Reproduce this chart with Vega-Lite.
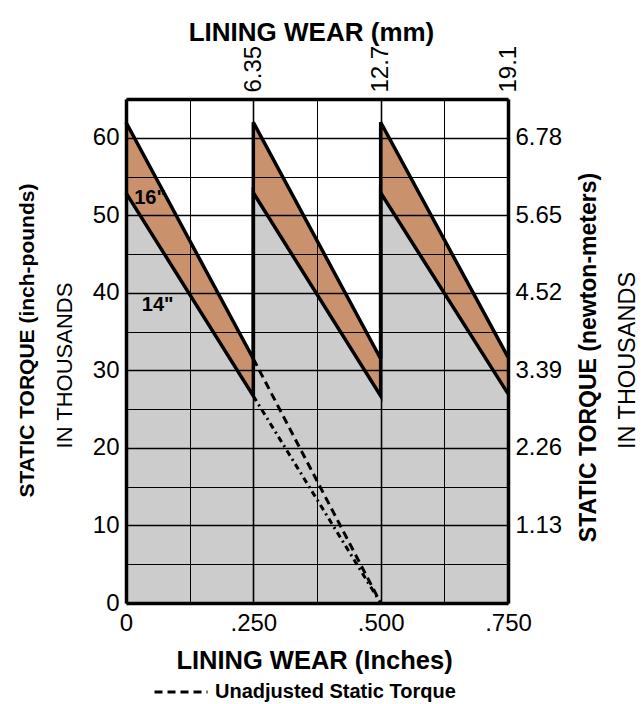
{
  "$schema": "https://vega.github.io/schema/vega-lite/v6.json",
  "width": 382,
  "height": 504,
  "autosize": "none",
  "padding": {"left": 126, "top": 99, "right": 136, "bottom": 101},
  "background": "white",
  "config": {
    "view": {"stroke": null},
    "font": "Liberation Sans, Arial, sans-serif",
    "axis": {
      "labelFont": "Liberation Sans, Arial, sans-serif",
      "titleFont": "Liberation Sans, Arial, sans-serif",
      "labelColor": "#000",
      "titleColor": "#000",
      "labelFontSize": 24,
      "titleFontWeight": "bold",
      "ticks": false,
      "labelFlush": false,
      "labelOverlap": false,
      "labelBound": false
    }
  },
  "datasets": {
    "saw": [
      {"x": 0, "t16": 62, "t14": 52.9, "o": 1},
      {"x": 0.25, "t16": 31.5, "t14": 26.7, "o": 2},
      {"x": 0.25, "t16": 62, "t14": 52.9, "o": 3},
      {"x": 0.5, "t16": 31.5, "t14": 26.7, "o": 4},
      {"x": 0.5, "t16": 62, "t14": 52.9, "o": 5},
      {"x": 0.75, "t16": 31.7, "t14": 27.0, "o": 6}
    ],
    "teeth": [
      {"tooth": 1, "x": 0, "t16": 62, "t14": 52.9},
      {"tooth": 1, "x": 0.25, "t16": 31.5, "t14": 26.7},
      {"tooth": 2, "x": 0.25, "t16": 62, "t14": 52.9},
      {"tooth": 2, "x": 0.5, "t16": 31.5, "t14": 26.7},
      {"tooth": 3, "x": 0.5, "t16": 62, "t14": 52.9},
      {"tooth": 3, "x": 0.75, "t16": 31.7, "t14": 27.0}
    ],
    "unadj": [
      {"x": 0.25, "y": 31.5, "kind": "Unadjusted Static Torque"},
      {"x": 0.5, "y": 0, "kind": "Unadjusted Static Torque"},
      {"x": 0.25, "y": 26.7, "kind": "Unadjusted (14 in)"},
      {"x": 0.5, "y": 0, "kind": "Unadjusted (14 in)"}
    ],
    "labels": [
      {"x": 0.016, "y": 52.2, "label": "16\""},
      {"x": 0.031, "y": 38.4, "label": "14\""}
    ]
  },
  "layer": [
    {
      "data": {"name": "teeth"},
      "mark": {"type": "area", "fill": "#cccccc", "fillOpacity": 1, "orient": "vertical"},
      "encoding": {
        "x": {
          "field": "x", "type": "quantitative",
          "scale": {"domain": [0, 0.75], "nice": false, "zero": false},
          "axis": {
            "orient": "bottom",
            "values": [0, 0.125, 0.25, 0.375, 0.5, 0.625, 0.75],
            "labelExpr": "datum.value === 0 ? '0' : (round(datum.value * 1000) % 250 === 0 ? '.' + format(round(datum.value * 1000), 'd') : '')",
            "grid": true,
            "gridColor": "#000",
            "gridWidth": {"condition": {"test": "round(datum.value * 1000) % 250 === 0", "value": 1.6}, "value": 1},
            "domain": true,
            "domainColor": "#000",
            "domainWidth": 3.5,
            "labelPadding": 8,
            "title": "LINING WEAR (Inches)",
            "titleFontSize": 25.5,
            "titleX": 188,
            "titleY": 57,
            "titleBaseline": "middle",
            "titleAlign": "center",
            "zindex": 1
          }
        },
        "y": {
          "field": "t14", "type": "quantitative", "stack": null,
          "scale": {"domain": [0, 65], "nice": false, "zero": false},
          "axis": {
            "orient": "left",
            "values": [0, 5, 10, 15, 20, 25, 30, 35, 40, 45, 50, 55, 60],
            "labelExpr": "datum.value % 10 === 0 ? datum.label : ''",
            "grid": true,
            "gridColor": "#000",
            "gridWidth": {"condition": {"test": "datum.value % 10 === 0", "value": 1.6}, "value": 1},
            "domain": true,
            "domainColor": "#000",
            "domainWidth": 3.5,
            "labelPadding": 7,
            "labelBaseline": "middle",
            "title": "STATIC TORQUE (inch-pounds)",
            "titleFontSize": 21,
            "titleAngle": 270,
            "titleX": -99,
            "titleY": 241,
            "titleBaseline": "middle",
            "titleAlign": "center",
            "zindex": 1
          }
        },
        "y2": {"datum": 0},
        "detail": {"field": "tooth", "type": "nominal"}
      }
    },
    {
      "data": {"name": "teeth"},
      "mark": {"type": "area", "fill": "#c9926d", "fillOpacity": 1, "orient": "vertical"},
      "encoding": {
        "x": {"field": "x", "type": "quantitative", "scale": {"domain": [0, 0.75], "nice": false, "zero": false}, "axis": null},
        "y": {"field": "t16", "type": "quantitative", "stack": null, "scale": {"domain": [0, 65], "nice": false, "zero": false}, "axis": null},
        "y2": {"field": "t14"},
        "detail": {"field": "tooth", "type": "nominal"}
      }
    },
    {
      "data": {"name": "saw"},
      "mark": {"type": "line", "color": "#000", "strokeWidth": 3.5, "strokeJoin": "miter", "strokeCap": "butt"},
      "encoding": {
        "x": {"field": "x", "type": "quantitative", "scale": {"domain": [0, 0.75], "nice": false, "zero": false}, "axis": null},
        "y": {"field": "t14", "type": "quantitative", "scale": {"domain": [0, 65], "nice": false, "zero": false}, "axis": null},
        "order": {"field": "o", "type": "quantitative"}
      }
    },
    {
      "data": {"name": "saw"},
      "mark": {"type": "line", "color": "#000", "strokeWidth": 3.5, "strokeJoin": "miter", "strokeCap": "butt"},
      "encoding": {
        "x": {"field": "x", "type": "quantitative", "scale": {"domain": [0, 0.75], "nice": false, "zero": false}, "axis": null},
        "y": {"field": "t16", "type": "quantitative", "scale": {"domain": [0, 65], "nice": false, "zero": false}, "axis": null},
        "order": {"field": "o", "type": "quantitative"}
      }
    },
    {
      "data": {"name": "unadj"},
      "mark": {"type": "line", "color": "#000", "strokeWidth": 3},
      "encoding": {
        "x": {"field": "x", "type": "quantitative", "scale": {"domain": [0, 0.75], "nice": false, "zero": false}, "axis": null},
        "y": {"field": "y", "type": "quantitative", "scale": {"domain": [0, 65], "nice": false, "zero": false}, "axis": null},
        "strokeDash": {
          "field": "kind", "type": "nominal",
          "scale": {"domain": ["Unadjusted Static Torque", "Unadjusted (14 in)"], "range": [[8, 5], [6, 4, 2, 4]]},
          "legend": {
            "values": ["Unadjusted Static Torque"],
            "title": null,
            "orient": "none",
            "legendX": 27,
            "legendY": 565,
            "padding": 0,
            "symbolType": "stroke",
            "symbolSize": 2809,
            "symbolStrokeWidth": 3,
            "symbolStrokeColor": "#000",
            "labelFont": "Liberation Sans, Arial, sans-serif",
            "labelFontSize": 20,
            "labelFontWeight": "bold",
            "labelColor": "#000",
            "labelOffset": 6,
            "labelLimit": 400
          }
        }
      }
    },
    {
      "data": {"name": "labels"},
      "mark": {"type": "text", "align": "left", "baseline": "middle", "fontSize": 20, "fontWeight": "bold", "color": "#000"},
      "encoding": {
        "x": {"field": "x", "type": "quantitative", "scale": {"domain": [0, 0.75], "nice": false, "zero": false}, "axis": null},
        "y": {"field": "y", "type": "quantitative", "scale": {"domain": [0, 65], "nice": false, "zero": false}, "axis": null},
        "text": {"field": "label"}
      }
    },
    {
      "data": {"name": "saw"},
      "mark": {"type": "point", "opacity": 0},
      "encoding": {
        "x": {
          "field": "x", "type": "quantitative",
          "scale": {"domain": [0, 0.75], "nice": false, "zero": false},
          "axis": {
            "orient": "top",
            "values": [0.25, 0.5, 0.75],
            "labelExpr": "datum.value === 0.25 ? '6.35' : (datum.value === 0.5 ? '12.7' : '19.1')",
            "labelAngle": -90,
            "labelAlign": "left",
            "labelBaseline": "middle",
            "labelPadding": 7,
            "grid": false,
            "domain": true,
            "domainColor": "#000",
            "domainWidth": 3.5,
            "title": "LINING WEAR (mm)",
            "titleFontSize": 26,
            "titleX": 185,
            "titleY": -67,
            "titleBaseline": "middle",
            "titleAlign": "center",
            "zindex": 1
          }
        },
        "y": {
          "field": "t14", "type": "quantitative",
          "scale": {"domain": [0, 65], "nice": false, "zero": false},
          "axis": {
            "orient": "right",
            "values": [10, 20, 30, 40, 50, 60],
            "labelExpr": "format(datum.value * 0.113, '.2f')",
            "labelPadding": 7,
            "labelBaseline": "middle",
            "grid": false,
            "domain": true,
            "domainColor": "#000",
            "domainWidth": 3.5,
            "title": "STATIC TORQUE (newton-meters)",
            "titleFontSize": 23,
            "titleAngle": 270,
            "titleX": 80,
            "titleY": 258,
            "titleBaseline": "middle",
            "titleAlign": "center",
            "zindex": 1
          }
        }
      }
    },
    {
      "data": {"name": "saw"},
      "mark": {"type": "point", "opacity": 0},
      "encoding": {
        "x": {"field": "x", "type": "quantitative", "scale": {"domain": [0, 0.75], "nice": false, "zero": false}, "axis": null},
        "y": {
          "field": "t14", "type": "quantitative",
          "scale": {"domain": [0, 65], "nice": false, "zero": false},
          "axis": {
            "orient": "left",
            "labels": false, "grid": false, "domain": false, "ticks": false,
            "title": "IN THOUSANDS",
            "titleFontWeight": "normal",
            "titleFontSize": 22,
            "titleAngle": 270,
            "titleX": -62,
            "titleY": 266,
            "titleBaseline": "middle",
            "titleAlign": "center"
          }
        }
      }
    },
    {
      "data": {"name": "saw"},
      "mark": {"type": "point", "opacity": 0},
      "encoding": {
        "x": {"field": "x", "type": "quantitative", "scale": {"domain": [0, 0.75], "nice": false, "zero": false}, "axis": null},
        "y": {
          "field": "t14", "type": "quantitative",
          "scale": {"domain": [0, 65], "nice": false, "zero": false},
          "axis": {
            "orient": "right",
            "labels": false, "grid": false, "domain": false, "ticks": false,
            "title": "IN THOUSANDS",
            "titleFontWeight": "normal",
            "titleFontSize": 23.5,
            "titleAngle": 270,
            "titleX": 119,
            "titleY": 261,
            "titleBaseline": "middle",
            "titleAlign": "center"
          }
        }
      }
    }
  ],
  "resolve": {"axis": {"x": "independent", "y": "independent"}}
}
